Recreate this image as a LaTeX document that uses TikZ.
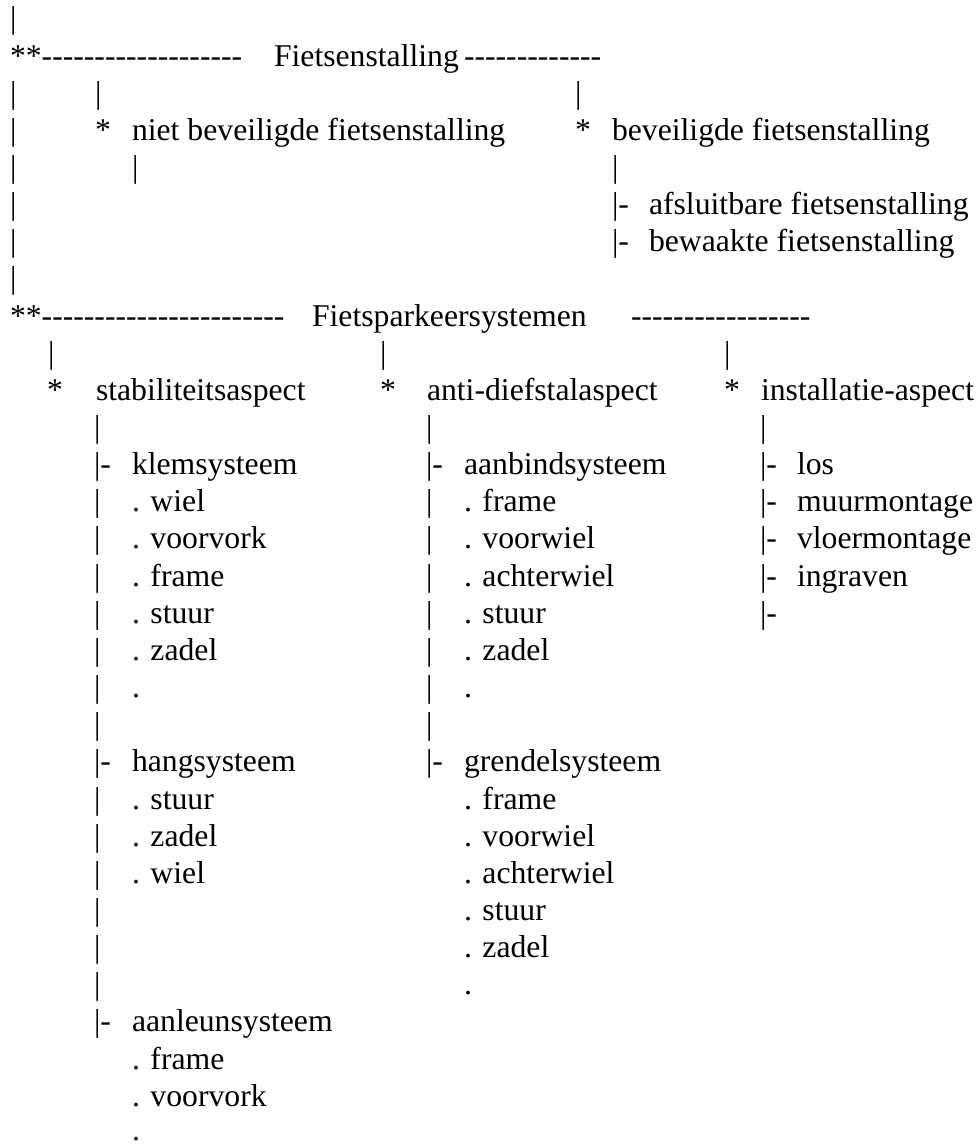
\documentclass[tikz,border=0pt]{standalone}
\usepackage{fontspec}
\newfontfamily\tnr{Liberation Serif}[Ligatures={TeXOff,CommonOff}]
\begin{document}
\begin{tikzpicture}[x=1bp,y=-1bp,
  t/.style={anchor=base west,inner sep=0pt,outer sep=0pt,font={\tnr\fontsize{31.7bp}{37bp}\selectfont}}]
\useasboundingbox (0,0) rectangle (979,1146);
% row 1
\node[t] (r1a) at (10,28.85) {|};
% row 2
\node[t] (r2a) at (10,66) {**-------------------};
\node[t] (r2b) at (274,66) {Fietsenstalling};
\node[t] (r2c) at (464,66) {-------------};
% row 3
\node[t] (r3a) at (10,103.15) {|};
\node[t] (r3b) at (95,103.15) {|};
\node[t] (r3c) at (575,103.15) {|};
% row 4
\node[t] (r4a) at (10,140.3) {|};
\node[t] (r4b) at (95,140.3) {*};
\node[t] (r4c) at (132,140.3) {niet beveiligde fietsenstalling};
\node[t] (r4d) at (575,140.3) {*};
\node[t] (r4e) at (612,140.3) {beveiligde fietsenstalling};
% row 5
\node[t] (r5a) at (10,177.45) {|};
\node[t] (r5b) at (132,177.45) {|};
\node[t] (r5c) at (612,177.45) {|};
% row 6
\node[t] (r6a) at (10,214.6) {|};
\node[t] (r6b) at (612,214.6) {|-};
\node[t] (r6c) at (649,214.6) {afsluitbare fietsenstalling};
% row 7
\node[t] (r7a) at (10,251.75) {|};
\node[t] (r7b) at (612,251.75) {|-};
\node[t] (r7c) at (649,251.75) {bewaakte fietsenstalling};
% row 8
\node[t] (r8a) at (10,288.9) {|};
% row 9
\node[t] (r9a) at (10,326.05) {**-----------------------};
\node[t] (r9b) at (312,326.05) {Fietsparkeersystemen};
\node[t] (r9c) at (631,326.05) {-----------------};
% row 10
\node[t] (r10a) at (48,363.2) {|};
\node[t] (r10b) at (380,363.2) {|};
\node[t] (r10c) at (724,363.2) {|};
% row 11
\node[t] (r11a) at (47,400.35) {*};
\node[t] (r11b) at (96,400.35) {stabiliteitsaspect};
\node[t] (r11c) at (380,400.35) {*};
\node[t] (r11d) at (427,400.35) {anti-diefstalaspect};
\node[t] (r11e) at (724,400.35) {*};
\node[t] (r11f) at (761,400.35) {installatie-aspect};
% row 12
\node[t] (r12a) at (94,437.5) {|};
\node[t] (r12b) at (426,437.5) {|};
\node[t] (r12c) at (760,437.5) {|};
% row 13
\node[t] (r13a) at (94,474.65) {|-};
\node[t] (r13b) at (132,474.65) {klemsysteem};
\node[t] (r13c) at (426,474.65) {|-};
\node[t] (r13d) at (464,474.65) {aanbindsysteem};
\node[t] (r13e) at (760,474.65) {|-};
\node[t] (r13f) at (797,474.65) {los};
% row 14
\node[t] (r14a) at (94,511.8) {|};
\node[t] (r14b) at (132,511.8) {. wiel};
\node[t] (r14c) at (426,511.8) {|};
\node[t] (r14d) at (464,511.8) {. frame};
\node[t] (r14e) at (760,511.8) {|-};
\node[t] (r14f) at (797,511.8) {muurmontage};
% row 15
\node[t] (r15a) at (94,548.95) {|};
\node[t] (r15b) at (132,548.95) {. voorvork};
\node[t] (r15c) at (426,548.95) {|};
\node[t] (r15d) at (464,548.95) {. voorwiel};
\node[t] (r15e) at (760,548.95) {|-};
\node[t] (r15f) at (797,548.95) {vloermontage};
% row 16
\node[t] (r16a) at (94,586.1) {|};
\node[t] (r16b) at (132,586.1) {. frame};
\node[t] (r16c) at (426,586.1) {|};
\node[t] (r16d) at (464,586.1) {. achterwiel};
\node[t] (r16e) at (760,586.1) {|-};
\node[t] (r16f) at (797,586.1) {ingraven};
% row 17
\node[t] (r17a) at (94,623.25) {|};
\node[t] (r17b) at (132,623.25) {. stuur};
\node[t] (r17c) at (426,623.25) {|};
\node[t] (r17d) at (464,623.25) {. stuur};
\node[t] (r17e) at (760,623.25) {|-};
% row 18
\node[t] (r18a) at (94,660.4) {|};
\node[t] (r18b) at (132,660.4) {. zadel};
\node[t] (r18c) at (426,660.4) {|};
\node[t] (r18d) at (464,660.4) {. zadel};
% row 19
\node[t] (r19a) at (94,697.55) {|};
\node[t] (r19b) at (132,697.55) {.};
\node[t] (r19c) at (426,697.55) {|};
\node[t] (r19d) at (464,697.55) {.};
% row 20
\node[t] (r20a) at (94,734.7) {|};
\node[t] (r20c) at (426,734.7) {|};
% row 21
\node[t] (r21a) at (94,771.85) {|-};
\node[t] (r21b) at (132,771.85) {hangsysteem};
\node[t] (r21c) at (426,771.85) {|-};
\node[t] (r21d) at (464,771.85) {grendelsysteem};
% row 22
\node[t] (r22a) at (94,809) {|};
\node[t] (r22b) at (132,809) {. stuur};
\node[t] (r22d) at (464,809) {. frame};
% row 23
\node[t] (r23a) at (94,846.15) {|};
\node[t] (r23b) at (132,846.15) {. zadel};
\node[t] (r23d) at (464,846.15) {. voorwiel};
% row 24
\node[t] (r24a) at (94,883.3) {|};
\node[t] (r24b) at (132,883.3) {. wiel};
\node[t] (r24d) at (464,883.3) {. achterwiel};
% row 25
\node[t] (r25a) at (94,920.45) {|};
\node[t] (r25d) at (464,920.45) {. stuur};
% row 26
\node[t] (r26a) at (94,957.6) {|};
\node[t] (r26d) at (464,957.6) {. zadel};
% row 27
\node[t] (r27a) at (94,994.75) {|};
\node[t] (r27d) at (464,994.75) {.};
% row 28
\node[t] (r28a) at (94,1031.9) {|-};
\node[t] (r28b) at (132,1031.9) {aanleunsysteem};
% row 29
\node[t] (r29b) at (132,1069.05) {. frame};
% row 30
\node[t] (r30b) at (132,1106.2) {. voorvork};
% row 31
\node[t] (r31b) at (132,1140) {.};
\end{tikzpicture}
\end{document}
